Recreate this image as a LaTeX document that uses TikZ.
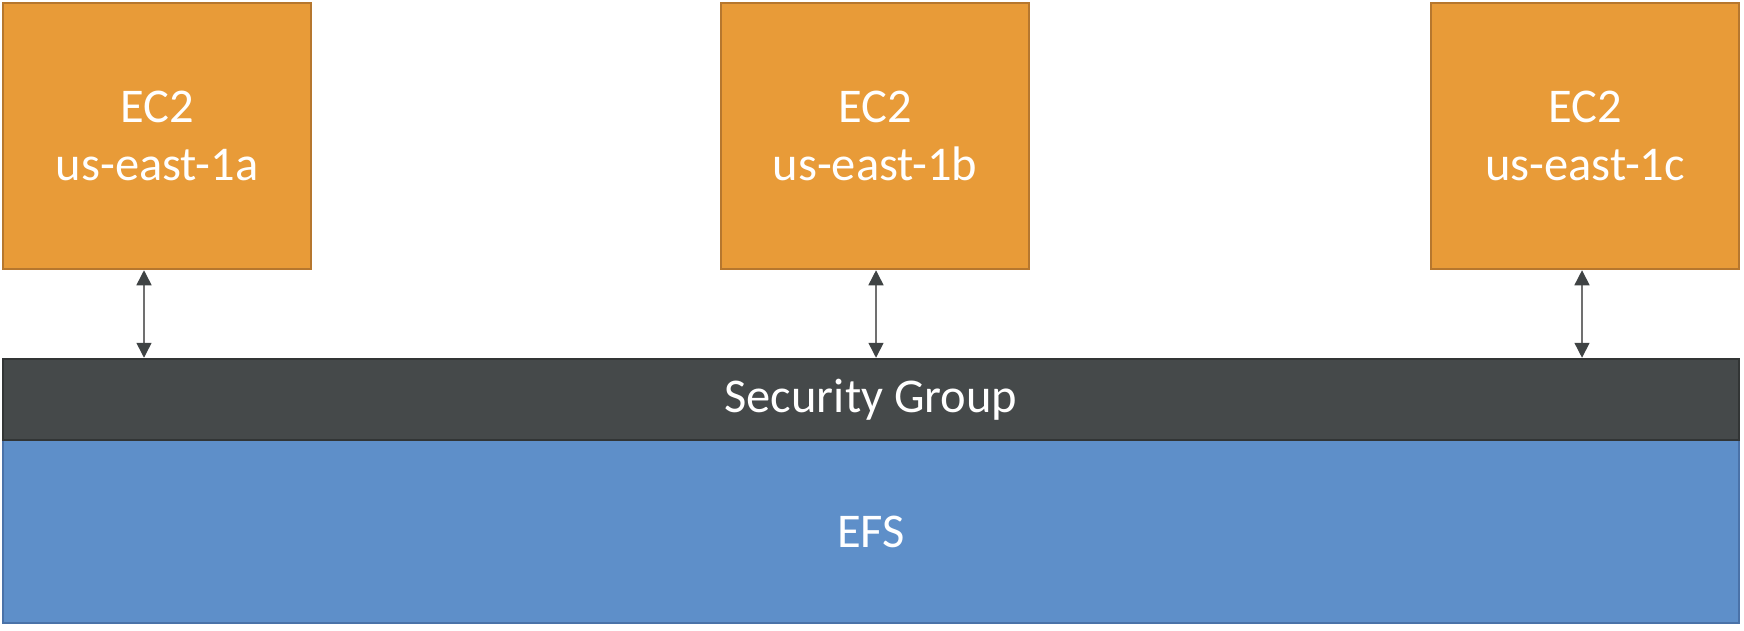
\documentclass[tikz,border=0pt]{standalone}
\usepackage{fontspec}
\setmainfont{Carlito}
\usetikzlibrary{arrows.meta}
\definecolor{ec2fill}{HTML}{E89B38}
\definecolor{ec2line}{HTML}{B6772E}
\definecolor{sgfill}{HTML}{45494A}
\definecolor{sgline}{HTML}{323535}
\definecolor{efsfill}{HTML}{5E8FC9}
\definecolor{efsline}{HTML}{4A72A8}
\definecolor{linkline}{HTML}{707070}
\definecolor{linkhead}{HTML}{3F4344}
\tikzset{
	ec2/.style={draw=ec2line, fill=ec2fill, line width=2.5pt, minimum width=308pt, minimum height=266pt, text=white, align=center, font=\fontsize{48.5}{58}\selectfont},
	band/.style={line width=2.5pt, minimum width=1736pt, text=white, font=\fontsize{48.5}{58}\selectfont},
	link/.style={draw=linkline, line width=1.5pt, {Triangle[length=15pt,width=15pt,color=linkhead]}-{Triangle[length=15pt,width=15pt,color=linkhead]}}
}
\begin{document}
\begin{tikzpicture}[x=1pt, y=-1pt]
	\useasboundingbox (0,0) rectangle (1744,630);
	\node[ec2] (ec2a) at (157,136) {EC2\\us-east-1a};
	\node[ec2] (ec2b) at (875,136) {EC2\\us-east-1b};
	\node[ec2] (ec2c) at (1585,136) {EC2\\us-east-1c};
	\node[band, draw=efsline, fill=efsfill, minimum height=183pt] (efs) at (871,531.5) {EFS};
	\node[band, draw=sgline, fill=sgfill, minimum height=81pt] (sg) at (871,399.5) {Security Group};
	\draw[link] ([xshift=-13pt]ec2a.south) -- ([xshift=-13pt]ec2a.south |- sg.north);
	\draw[link] ([xshift=1pt]ec2b.south) -- ([xshift=1pt]ec2b.south |- sg.north);
	\draw[link] ([xshift=-3pt]ec2c.south) -- ([xshift=-3pt]ec2c.south |- sg.north);
\end{tikzpicture}
\end{document}
